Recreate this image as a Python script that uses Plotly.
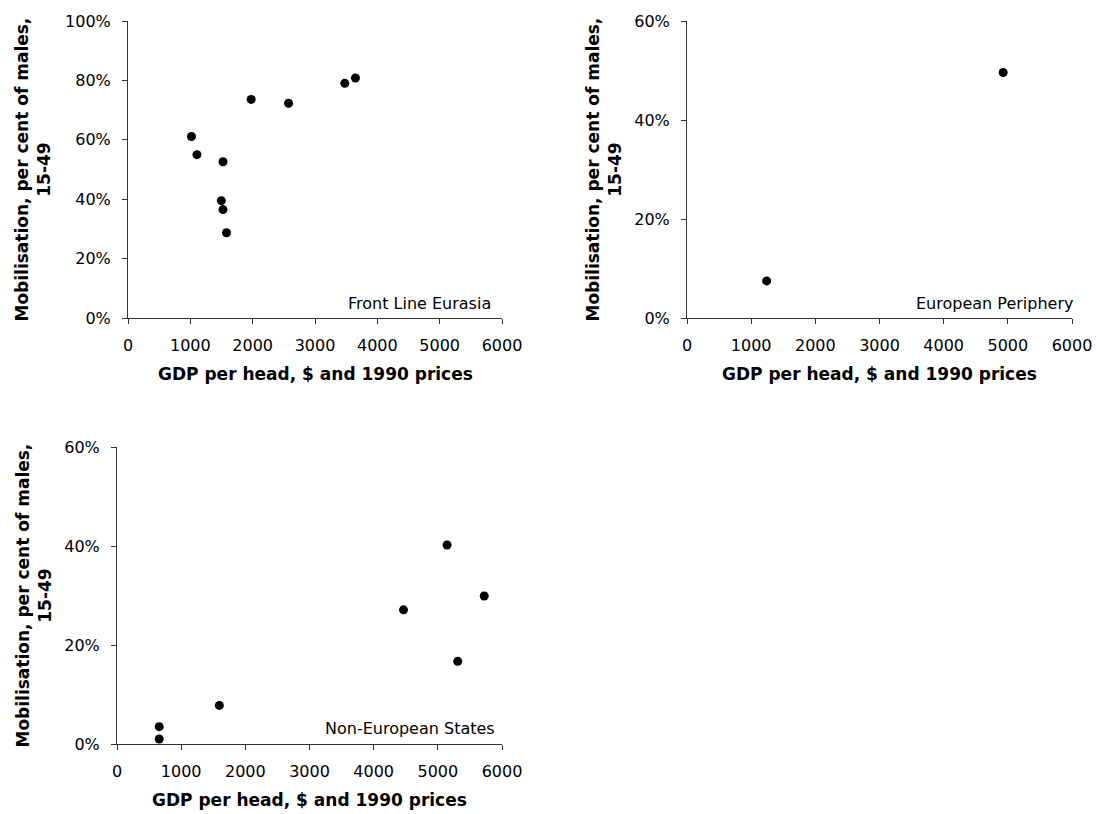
import plotly.graph_objects as go

W, H = 1096, 814

# ---- data ----
front_gdp = [1018, 1106, 1524, 1497, 1524, 1580, 1976, 2576, 3478, 3649]
front_mob = [0.611, 0.550, 0.526, 0.395, 0.365, 0.287, 0.736, 0.723, 0.790, 0.808]

periph_gdp = [1241, 4927]
periph_mob = [0.075, 0.496]

noneu_gdp = [658, 658, 1595, 4465, 5144, 5723, 5310]
noneu_mob = [0.010, 0.035, 0.078, 0.271, 0.402, 0.299, 0.167]

x_ticks = [0, 1000, 2000, 3000, 4000, 5000, 6000]
y_ticks_front = [0, 0.2, 0.4, 0.6, 0.8, 1.0]
y_ticks_other = [0, 0.2, 0.4, 0.6]

panel_labels = ["Front Line Eurasia", "European Periphery", "Non-European States"]
x_title = "GDP per head, $ and 1990 prices"
y_title = "Mobilisation, per cent of males,<br>15-49"

FONT = "DejaVu Sans"
INK = "#000000"
AXIS = "#333333"

# ---- layout geometry (page pixels) ----
panels = [
    dict(x=front_gdp, y=front_mob, xpix=(128, 502), ypix=(21, 318), yticks=y_ticks_front,
         label=panel_labels[0], label_x=493, label_y=303, ytitle_x=32),
    dict(x=periph_gdp, y=periph_mob, xpix=(687, 1072), ypix=(21, 318), yticks=y_ticks_other,
         label=panel_labels[1], label_x=1075, label_y=303, ytitle_x=603),
    dict(x=noneu_gdp, y=noneu_mob, xpix=(117, 502), ypix=(447, 744), yticks=y_ticks_other,
         label=panel_labels[2], label_x=497, label_y=728, ytitle_x=33),
]

def px_x(p):
    return p / W

def px_y(p):
    return 1 - p / H

fig = go.Figure()
annotations = []
layout_axes = {}

for i, p in enumerate(panels, start=1):
    sfx = "" if i == 1 else str(i)
    fig.add_trace(go.Scatter(
        x=p["x"], y=p["y"], mode="markers",
        marker=dict(color=INK, size=9, line=dict(width=0)),
        xaxis="x" + sfx, yaxis="y" + sfx, showlegend=False,
        hovertemplate="%{x}, %{y:.0%}<extra></extra>",
    ))
    x0, x1 = p["xpix"]
    yt, yb = p["ypix"]
    layout_axes["xaxis" + sfx] = dict(
        domain=[px_x(x0), px_x(x1)], range=[0, 6000], anchor="y" + sfx,
        tickmode="array", tickvals=x_ticks, ticktext=[str(v) for v in x_ticks],
        ticks="outside", ticklen=5, tickcolor=AXIS, tickwidth=1,
        showline=True, linecolor=AXIS, linewidth=1, showgrid=False, zeroline=False,
        tickfont=dict(family=FONT, size=16, color=INK), ticklabelstandoff=8,
        ticklabeloverflow="allow",
        automargin=False, fixedrange=True,
    )
    ymax = p["yticks"][-1]
    layout_axes["yaxis" + sfx] = dict(
        domain=[px_y(yb), px_y(yt)], range=[0, ymax], anchor="x" + sfx,
        tickmode="array", tickvals=p["yticks"],
        ticktext=[f"{round(v * 100)}%" for v in p["yticks"]],
        ticks="outside", ticklen=5, tickcolor=AXIS, tickwidth=1,
        showline=True, linecolor=AXIS, linewidth=1, showgrid=False, zeroline=False,
        tickfont=dict(family=FONT, size=16, color=INK), ticklabelstandoff=8,
        ticklabeloverflow="allow",
        automargin=False, fixedrange=True,
    )
    # panel label
    annotations.append(dict(
        text=p["label"], xref="paper", yref="paper",
        x=px_x(p["label_x"]), y=px_y(p["label_y"]),
        xanchor="right", yanchor="middle", showarrow=False,
        font=dict(family=FONT, size=16, color=INK),
    ))
    # x title
    annotations.append(dict(
        text="<b>" + x_title + "</b>", xref="paper", yref="paper",
        x=px_x((x0 + x1) / 2), y=px_y(yb + 56),
        xanchor="center", yanchor="middle", showarrow=False,
        font=dict(family=FONT, size=17, color=INK),
    ))
    # y title
    annotations.append(dict(
        text="<b>" + y_title.replace("<br>", "</b><br><b>") + "</b>",
        xref="paper", yref="paper",
        x=px_x(p["ytitle_x"]), y=px_y((yt + yb) / 2),
        xanchor="center", yanchor="middle", textangle=-90, showarrow=False,
        font=dict(family=FONT, size=17, color=INK),
    ))

fig.update_layout(
    width=W, height=H,
    margin=dict(l=0, r=0, t=0, b=0),
    paper_bgcolor="white", plot_bgcolor="white",
    font=dict(family=FONT, color=INK),
    annotations=annotations,
    showlegend=False,
    **layout_axes,
)

# remove the browser's default 8px body margin so the figure fills the window
fig.write_html(
    "out.html",
    config={"displayModeBar": False},
    post_script="document.body.style.margin='0';document.body.style.overflow='hidden';",
)
